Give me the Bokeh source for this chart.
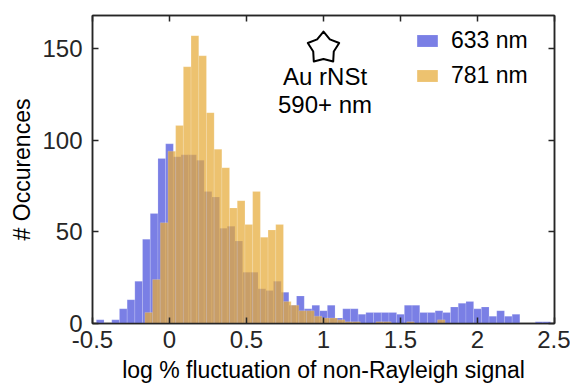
import math
from bokeh.plotting import figure
from bokeh.models import Range1d, LinearAxis, FixedTicker, Legend, LegendItem, Label
from bokeh.embed import file_html
from bokeh.resources import INLINE

# ---- data ----
bin_width = 0.05
blue_first_edge = -0.475
blue_counts = [2, 0, 2, 8, 13, 23, 46, 60, 90, 98,
               91, 92, 92, 89, 72, 69, 52, 53, 45, 28,
               28, 19, 18, 23, 17, 10, 15, 8, 10, 7,
               10, 3, 8, 8, 5, 6, 6, 6, 6, 5,
               10, 10, 6, 6, 7, 6, 9, 11, 12, 8,
               9, 4, 7, 4, 5, 0, 0, 1, 1]
orange_first_edge = -0.16
orange_counts = [6, 24, 55, 94, 108, 140, 157, 146, 115, 95,
                 85, 63, 67, 54, 72, 47, 51, 54, 12, 10,
                 7, 7, 4, 3, 3, 2, 1, 1, 0, 0,
                 1, 1, 0, 0, 1, 0, 0, 0, 2]
series_names = ["633 nm", "781 nm"]
x_ticks = [-0.5, 0, 0.5, 1, 1.5, 2, 2.5]
x_tick_labels = ["-0.5", "0", "0.5", "1", "1.5", "2", "2.5"]
y_ticks = [0, 50, 100, 150]
x_label = "log % fluctuation of non-Rayleigh signal"
y_label = "# Occurences"
note_lines = ["Au rNSt", "590+ nm"]

FONT = "Liberation Sans"
AX = "#262626"
BLUE = "#7a7fe5"
ORANGE = "#e6aa38"

X0, X1, Y0, Y1 = -0.5, 2.5, 0, 168
W, H = 570, 390
ML, MR, MT, MB = 92, 16, 15, 67

p = figure(width=W, height=H, x_range=Range1d(X0, X1), y_range=Range1d(Y0, Y1),
           output_backend="svg", toolbar_location=None,
           min_border_left=ML, min_border_right=MR, min_border_top=MT, min_border_bottom=MB)
p.grid.visible = False
p.outline_line_color = AX
p.outline_line_width = 1.5
p.background_fill_color = "white"
p.border_fill_color = "white"


def edges(first, n):
    l = [first + bin_width * i for i in range(n)]
    return l, [v + bin_width for v in l]


bl, br = edges(blue_first_edge, len(blue_counts))
ol, orr = edges(orange_first_edge, len(orange_counts))

r_blue = p.quad(left=bl, right=br, top=blue_counts, bottom=0,
                fill_color=BLUE, fill_alpha=1.0,
                line_color="white", line_alpha=0.25, line_width=0.6)
r_orange = p.quad(left=ol, right=orr, top=orange_counts, bottom=0,
                  fill_color=ORANGE, fill_alpha=0.72,
                  line_color="white", line_alpha=0.25, line_width=0.6)


def style_axis(ax, ticks, labels=True):
    ax.ticker = FixedTicker(ticks=ticks)
    ax.minor_tick_line_color = None
    ax.major_tick_in = 6
    ax.major_tick_out = 0
    ax.major_tick_line_color = AX
    ax.major_tick_line_width = 1.5
    ax.axis_line_color = AX
    ax.axis_line_width = 1.5
    ax.major_label_text_font = FONT
    ax.axis_label_text_font = FONT
    ax.axis_label_text_font_style = "normal"
    ax.axis_label_text_color = "black"
    ax.axis_label_text_font_size = "23px"
    if labels:
        ax.major_label_text_font_size = "24px"
        ax.major_label_text_color = AX
    else:
        ax.major_label_text_font_size = "1px"
        ax.major_label_text_color = None
        ax.major_label_standoff = 0


xa = p.xaxis[0]
style_axis(xa, x_ticks)
xa.major_label_overrides = {t: s for t, s in zip(x_ticks, x_tick_labels)}
xa.major_label_standoff = 7
xa.axis_label = x_label
xa.axis_label_standoff = 6

ya = p.yaxis[0]
style_axis(ya, y_ticks)
ya.major_label_standoff = 10
ya.axis_label = y_label
ya.axis_label_standoff = 4

top_ax = LinearAxis()
style_axis(top_ax, x_ticks, labels=False)
p.add_layout(top_ax, "above")
right_ax = LinearAxis()
style_axis(right_ax, y_ticks, labels=False)
p.add_layout(right_ax, "right")

legend = Legend(items=[LegendItem(label=series_names[0], renderers=[r_blue]),
                       LegendItem(label=series_names[1], renderers=[r_orange])],
                location="top_right", margin=12, padding=7,
                border_line_color=None, background_fill_alpha=0,
                glyph_width=26, glyph_height=15, label_standoff=11,
                label_width=91, spacing=8,
                label_text_font=FONT, label_text_font_size="23px",
                label_text_color="black")
p.add_layout(legend)

# annotation: star outline + text
px_per_x = (W - ML - MR) / (X1 - X0)
px_per_y = (H - MT - MB) / (Y1 - Y0)
star_x, star_y = 1.0, 150.2
R_out, R_in = 16.5, 10.8
sx, sy = [], []
for k in range(10):
    ang = math.pi / 2 + k * math.pi / 5
    rr = R_out if k % 2 == 0 else R_in
    sx.append(star_x + rr * math.cos(ang) / px_per_x)
    sy.append(star_y + rr * math.sin(ang) / px_per_y)
p.patch(sx, sy, fill_color=None, line_color="black", line_width=2, line_join="round")

for txt, yy in zip(note_lines, [134.7, 119.4]):
    p.add_layout(Label(x=1.01, y=yy, text=txt, text_align="center", text_baseline="middle",
                       text_font=FONT, text_font_size="24px", text_color="black"))

open("out.html", "w").write(file_html(p, INLINE))
